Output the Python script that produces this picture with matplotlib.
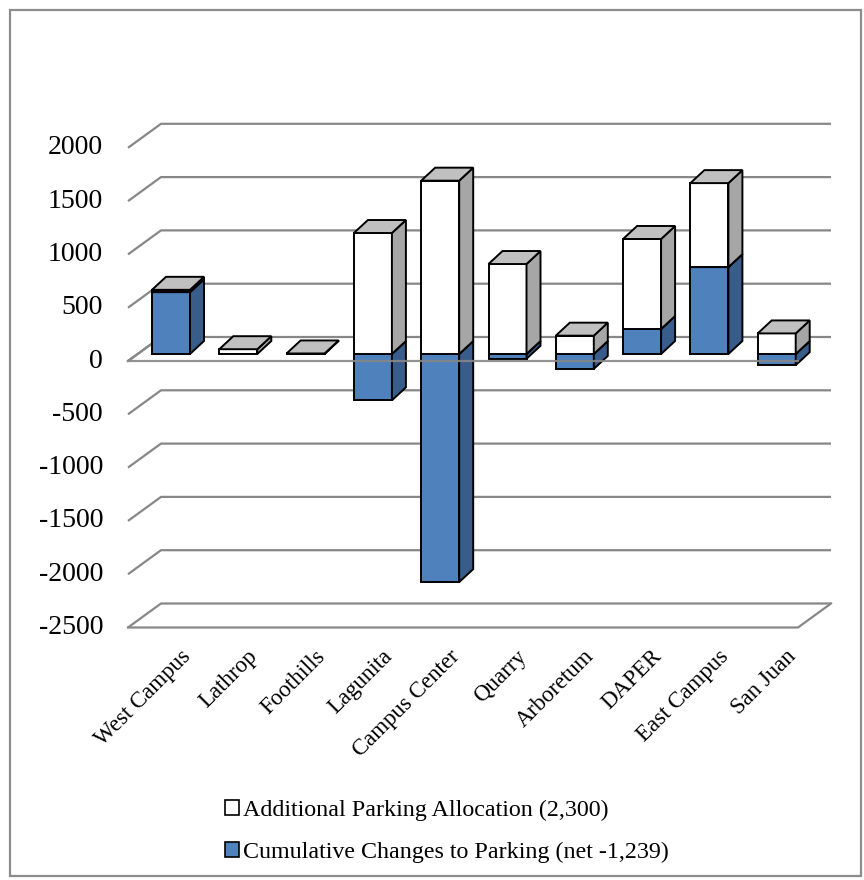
import matplotlib.pyplot as plt
from matplotlib.patches import Polygon, Patch, Rectangle

# data
campuses = ['West Campus', 'Lathrop', 'Foothills', 'Lagunita', 'Campus Center',
            'Quarry', 'Arboretum', 'DAPER', 'East Campus', 'San Juan']
cumulative = [580, 0, 0, -435, -2140, -45, -140, 235, 815, -105]
additional = [22, 45, 5, 1135, 1626, 844, 172, 844, 788, 193]
y_ticks = [2000, 1500, 1000, 500, 0, -500, -1000, -1500, -2000, -2500]
legend_labels = ['Additional Parking Allocation (2,300)',
                 'Cumulative Changes to Parking (net -1,239)']

BLUE, BLUE_SIDE, BLUE_TOP = '#4F81BD', '#385D8A', '#7EA1D0'
WHITE, WHITE_SIDE, WHITE_TOP = '#FFFFFF', '#A6A6A6', '#C0C0C0'
GRID = '#878787'
SERIF = ['Liberation Serif', 'DejaVu Serif']

# pixel scale of the original: 67.3 px per category, 0.1066 px per unit
PX_X = 67.3
PX_Y = 0.1066
W, H = 864, 880

fig = plt.figure(figsize=(W / 100, H / 100), dpi=100)
ax = fig.add_axes([0, 0, 1, 1])
ax.set_xlim((0 - 171) / PX_X, (W - 171) / PX_X)
ax.set_ylim((354 - H) / PX_Y, 354 / PX_Y)
ax.axis('off')

# depth offsets (data units)
bar_w = 38 / PX_X
bdx, bdy = 14 / PX_X, 13 / PX_Y
front_off = -7 / PX_Y
back_off = 17 / PX_Y
wall_left_f = (128 - 171) / PX_X
wall_left_b = (161 - 171) / PX_X
wall_right_f = (798 - 171) / PX_X
wall_right_b = (831 - 171) / PX_X

# walls and gridlines
for t in y_ticks:
    yf, yb = t + front_off, t + back_off
    ax.plot([wall_left_f, wall_left_b, wall_right_b], [yf, yb, yb],
            color=GRID, lw=1.6, zorder=1, solid_capstyle='butt')
    ax.text(wall_left_f - 25 / PX_X, yf, str(t), ha='right', va='center',
            fontsize=20, family=SERIF)
floor = min(y_ticks)
ax.plot([wall_left_f, wall_right_f, wall_right_b],
        [floor + front_off, floor + front_off, floor + back_off],
        color=GRID, lw=1.6, zorder=1)


def draw_block(x, lo, hi, front, side, top, z):
    x0 = x - bar_w / 2
    x1 = x + bar_w / 2
    ax.bar(x, hi - lo, bottom=lo, width=bar_w, color=front,
           edgecolor='black', lw=1.4, zorder=z)
    ax.add_patch(Polygon([(x1, lo), (x1, hi), (x1 + bdx, hi + bdy),
                          (x1 + bdx, lo + bdy)], closed=True,
                         facecolor=side, edgecolor='black', lw=1.4, zorder=z))
    ax.add_patch(Polygon([(x0, hi), (x1, hi), (x1 + bdx, hi + bdy),
                          (x0 + bdx, hi + bdy)], closed=True,
                         facecolor=top, edgecolor='black', lw=1.4, zorder=z))


for i, (c, a) in enumerate(zip(cumulative, additional)):
    z = 3 + i * 2
    if c >= 0:
        if c > 0:
            draw_block(i, 0, c, BLUE, BLUE_SIDE, BLUE_TOP, z)
        draw_block(i, c, c + a, WHITE, WHITE_SIDE, WHITE_TOP, z + 1)
    else:
        draw_block(i, c, 0, BLUE, BLUE_SIDE, BLUE_TOP, z)
        draw_block(i, 0, a, WHITE, WHITE_SIDE, WHITE_TOP, z + 1)

# zero line in front of the bars
ax.plot([wall_left_f, wall_left_b], [front_off, back_off], color=GRID, lw=1.6, zorder=1)
ax.plot([wall_left_f, wall_right_f], [front_off, front_off],
        color=GRID, lw=1.6, zorder=40, alpha=0.9)

# category labels
for i, name in enumerate(campuses):
    ax.text(i + 9 / PX_X, (354 - 646) / PX_Y, name, rotation=45,
            rotation_mode='anchor', ha='right', va='top',
            fontsize=16.5, family=SERIF)

handles = [Patch(facecolor=WHITE, edgecolor='black', lw=1.2),
           Patch(facecolor=BLUE, edgecolor='black', lw=1.2)]
fig.legend(handles, legend_labels, loc='upper left',
           bbox_to_anchor=(225 / W, 1 - 800 / H), frameon=False,
           prop={'family': SERIF, 'size': 17.3}, handlelength=0.58,
           handleheight=0.58, handletextpad=0.17, labelspacing=0.85,
           borderpad=0, borderaxespad=0)

fig.patches.append(Rectangle((10 / W, 4 / H), 851 / W, 866 / H,
                             transform=fig.transFigure, fill=False,
                             edgecolor='#8C8C8C', lw=1.6))

fig.savefig('out.png', dpi=100)
